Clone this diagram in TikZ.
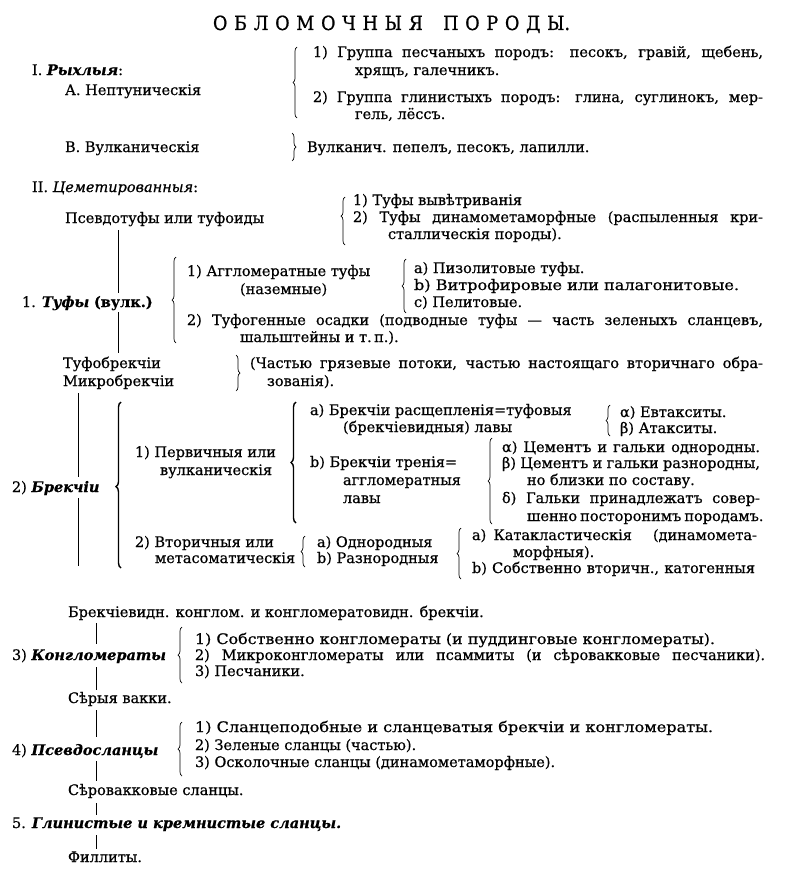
\documentclass[tikz,border=0pt]{standalone}
\usepackage{graphicx}
\usepackage{fontspec}
\setmainfont{DejaVu Serif}[FakeBold=0.6]
\newfontfamily\titlefont{DejaVu Serif}[FakeStretch=0.9,FakeBold=0.8]
\usetikzlibrary{decorations.pathreplacing}
\newcommand{\bodyfont}{\fontsize{14.5}{17}\selectfont}
\newcommand{\bi}[1]{\textbf{\textit{#1}}}
\newcommand{\js}[2]{\makebox[#1pt][s]{#2}}
\newcommand{\stretchto}[2]{\resizebox{#1pt}{\height}{#2}}
\begin{document}
\begin{tikzpicture}[x=1pt,y=-1pt,
  t/.style={anchor=base west, inner sep=0pt, outer sep=0pt, font=\bodyfont},
  lbrace/.style={decorate, decoration={brace, amplitude=4pt, aspect=#1}, line width=0.7pt},
  lbrace/.default=0.5,
  bbrace/.style={decorate, decoration={brace, amplitude=5pt, aspect=#1}, line width=1.4pt},
  bbrace/.default=0.5,
  vl/.style={line width=0.8pt}]
\fill[white] (0,0) rectangle (789,875);
\useasboundingbox (0,0) rectangle (789,875);

% title
\node[t, font=\titlefont\fontsize{19.5}{22}\selectfont] (title) at (213,30)
  {\makebox[357pt]{О\hfill Б\hfill Л\hfill О\hfill М\hfill О\hfill Ч\hfill Н\hfill Ы\hfill Я\hfill\hfill\hfill П\hfill О\hfill Р\hfill О\hfill Д\hfill Ы.}};

% I.
\node[t] (ia) at (32,75) {I. \bi{Рыхлыя}:};
\node[t] (ia1) at (65,95) {А. Нептуническія};
\coordinate (b1t) at (297,47); \coordinate (b1b) at (297,118);
\draw[lbrace=0.5] (b1b) -- (b1t);
\node[t] (g1a) at (313,57) {\js{450}{1) Группа песчаныхъ породъ: песокъ, гравій, щебень,}};
\node[t] (g1b) at (355,75) {хрящъ, галечникъ.};
\node[t] (g2a) at (313,102) {\js{450}{2) Группа глинистыхъ породъ: глина, суглинокъ, мер-}};
\node[t] (g2b) at (355,119) {гель, лёссъ.};
\node[t] (ib) at (65,152) {В. Вулканическія};
\coordinate (b2t) at (292,133); \coordinate (b2b) at (292,161);
\draw[lbrace=0.5] (b2t) -- (b2b);
\node[t] (vb) at (307,152) {Вулканич. пепелъ, песокъ, лапилли.};

% II.
\node[t] (ii) at (32,192) {II. \textit{Цеметированныя}:};
\node[t] (ps) at (65,223) {Псевдотуфы или туфоиды};
\coordinate (b3t) at (345,197); \coordinate (b3b) at (345,245);
\draw[lbrace=0.6] (b3b) -- (b3t);
\node[t] (ps1) at (353,205) {1) Туфы вывѣтриванія};
\node[t] (ps2) at (353,222) {\js{410}{2) Туфы динамометаморфные (распыленныя кри-}};
\node[t] (ps2b) at (388,239) {сталлическія породы).};

\coordinate (l1a) at (118,230); \coordinate (l1b) at (118,293);
\draw[vl] (l1a) -- (l1b);
\node[t] (tu) at (22,307) {1. \bi{Туфы} \textbf{(вулк.)}};
\coordinate (l2a) at (118,312); \coordinate (l2b) at (118,353);
\draw[vl] (l2a) -- (l2b);
\coordinate (b4t) at (176,257); \coordinate (b4b) at (176,343);
\draw[lbrace=0.5] (b4b) -- (b4t);
\node[t] (tu1) at (187,276) {1) Аггломератные туфы};
\node[t] (tu1b) at (240,294) {(наземные)};
\coordinate (b5t) at (406,259); \coordinate (b5b) at (406,313);
\draw[lbrace=0.5] (b5b) -- (b5t);
\node[t] (tua) at (414,273) {а) Пизолитовые туфы.};
\node[t] (tub) at (414,290) {\stretchto{325}{b) Витрофировые или палагонитовые.}};
\node[t] (tuc) at (414,307) {с) Пелитовые.};
\node[t] (tu2) at (187,325) {\js{576}{2) Туфогенные осадки (подводные туфы — часть зеленыхъ сланцевъ,}};
\node[t] (tu2b) at (240,342) {шальштейны и т.\,п.).};

\node[t] (tb) at (63,368) {Туфобрекчіи};
\node[t] (mb) at (63,386) {Микробрекчіи};
\coordinate (b6t) at (236,355); \coordinate (b6b) at (236,391);
\draw[lbrace=0.5] (b6t) -- (b6b);
\node[t] (tbx) at (250,368) {\js{513}{(Частью грязевые потоки, частью настоящаго вторичнаго обра-}};
\node[t] (tbx2) at (267,386) {зованія).};

% breccias
\coordinate (l3a) at (78,393); \coordinate (l3b) at (78,477);
\draw[vl] (l3a) -- (l3b);
\coordinate (l4a) at (78,498); \coordinate (l4b) at (78,566);
\draw[vl] (l4a) -- (l4b);
\node[t] (br) at (12,492) {2) \bi{Брекчіи}};
\coordinate (b7t) at (121,402); \coordinate (b7b) at (121,568);
\draw[bbrace=0.49] (b7b) -- (b7t);
\node[t] (p1) at (135,457) {1) Первичныя или};
\node[t] (p1b) at (160,475) {вулканическія};
\coordinate (b8t) at (296,402); \coordinate (b8b) at (296,523);
\draw[bbrace=0.5] (b8b) -- (b8t);
\node[t] (pa) at (310,415) {а) Брекчіи расщепленія=туфовыя};
\node[t] (pab) at (343,432) {(брекчіевидныя) лавы};
\coordinate (b9t) at (610,405); \coordinate (b9b) at (610,436);
\draw[lbrace=0.5] (b9b) -- (b9t);
\node[t] (eu) at (620,417) {α) Евтакситы.};
\node[t] (at) at (620,433) {β) Атакситы.};
\node[t] (pb) at (310,467) {b) Брекчіи тренія=};
\node[t] (pbb) at (343,485) {аггломератныя};
\node[t] (pbc) at (343,503) {лавы};
\coordinate (b10t) at (492,438); \coordinate (b10b) at (492,524);
\draw[lbrace=0.5] (b10b) -- (b10t);
\node[t] (c1) at (502,452) {\js{258}{α) Цементъ и гальки однородны.}};
\node[t] (c2) at (502,468) {\js{258}{β) Цементъ и гальки разнородны,}};
\node[t] (c3) at (527,485) {но близки по составу.};
\node[t] (c4) at (502,503) {\js{258}{δ) Гальки принадлежатъ совер-}};
\node[t] (c5) at (527,521) {\js{233}{шенно посторонимъ породамъ.}};
\node[t] (s1) at (135,547) {2) Вторичныя или};
\node[t] (s1b) at (155,563) {метасоматическія};
\coordinate (b11t) at (305,536); \coordinate (b11b) at (305,567);
\draw[lbrace=0.5] (b11b) -- (b11t);
\node[t] (sa) at (317,547) {а) Однородныя};
\node[t] (sb) at (317,563) {b) Разнородныя};
\coordinate (b12t) at (461,528); \coordinate (b12b) at (461,579);
\draw[lbrace=0.5] (b12b) -- (b12t);
\node[t] (ka) at (472,540) {\js{285}{а)\enspace Катакластическія (динамомета-}};
\node[t] (kb) at (513,557) {морфныя).};
\node[t] (kc) at (472,573) {\js{283}{b) Собственно вторичн., катогенныя}};

% lower part
\node[t] (bk) at (68,617) {Брекчіевидн. конглом. и конгломератовидн. брекчіи.};
\coordinate (l5a) at (96,623); \coordinate (l5b) at (96,644);
\draw[vl] (l5a) -- (l5b);
\node[t] (kg) at (12,660) {3) \bi{Конгломераты}};
\coordinate (l6a) at (96,667); \coordinate (l6b) at (96,690);
\draw[vl] (l6a) -- (l6b);
\coordinate (b13t) at (182,627); \coordinate (b13b) at (182,683);
\draw[lbrace=0.5] (b13b) -- (b13t);
\node[t] (k1) at (195,644) {\stretchto{520}{1) Собственно конгломераты (и пуддинговые конгломераты).}};
\node[t] (k2) at (195,660) {\js{570}{2) Микроконгломераты или псаммиты (и сѣровакковые песчаники).}};
\node[t] (k3) at (195,676) {3) Песчаники.};
\node[t] (sv) at (68,703) {Сѣрыя вакки.};
\coordinate (l7a) at (96,710); \coordinate (l7b) at (96,737);
\draw[vl] (l7a) -- (l7b);
\node[t] (ps4) at (12,755) {4) \bi{Псевдосланцы}};
\coordinate (l8a) at (96,761); \coordinate (l8b) at (96,781);
\draw[vl] (l8a) -- (l8b);
\coordinate (b14t) at (182,722); \coordinate (b14b) at (182,776);
\draw[lbrace=0.5] (b14b) -- (b14t);
\node[t] (q1) at (195,732) {\stretchto{518}{1) Сланцеподобные и сланцеватыя брекчіи и конгломераты.}};
\node[t] (q2) at (195,750) {2) Зеленые сланцы (частью).};
\node[t] (q3) at (195,767) {3) Осколочные сланцы (динамометаморфные).};
\node[t] (sl) at (68,795) {Сѣровакковые сланцы.};
\coordinate (l9a) at (96,803); \coordinate (l9b) at (96,815);
\draw[vl] (l9a) -- (l9b);
\node[t] (gl) at (12,828) {5. \bi{Глинистые и кремнистые сланцы.}};
\coordinate (l10a) at (96,835); \coordinate (l10b) at (96,849);
\draw[vl] (l10a) -- (l10b);
\node[t] (fi) at (68,862) {Филлиты.};
\end{tikzpicture}
\end{document}
